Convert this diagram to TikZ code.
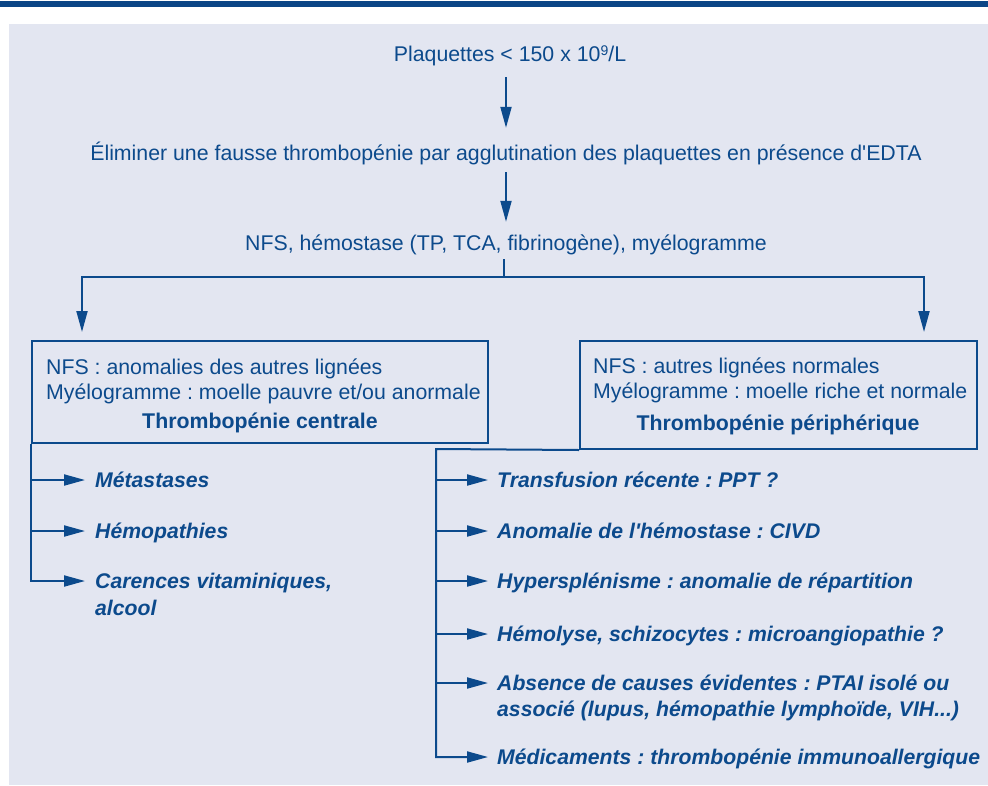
\documentclass[tikz,border=0pt]{standalone}
\usepackage{fontspec}
\setmainfont{Liberation Sans}[Ligatures=TeXOff]
\usetikzlibrary{arrows.meta}
\definecolor{navy}{HTML}{0C4A8C}
\definecolor{bgc}{HTML}{E3E6F1}
\definecolor{barc}{HTML}{0B4586}
\begin{document}
\frenchspacing
\begin{tikzpicture}[x=1pt,y=-1pt,
  every node/.style={text=navy, inner sep=0pt, font=\fontsize{21.3}{26}\selectfont},
  txt/.style={anchor=base, text height=18pt, text depth=4pt},
  ltxt/.style={anchor=base west, text height=18pt, text depth=4pt},
  item/.style={anchor=base west, text height=18pt, text depth=4pt, font=\fontsize{21.2}{26}\selectfont\bfseries\itshape},
  title/.style={anchor=base, font=\fontsize{21.3}{26}\selectfont\bfseries},
  box/.style={draw=navy, line width=2pt, rectangle},
  ln/.style={draw=navy, line width=2pt},
  arr/.style={draw=navy, line width=2pt, -{Triangle[length=21pt,width=11pt]}}]
\useasboundingbox (0,0) rectangle (988,785);
\fill[white] (0,0) rectangle (988,785);
\fill[barc] (0,1) rectangle (988,7);
\fill[bgc] (9,24) rectangle (988,785);

% main column
\node[txt] (n1) at (510,61) {Plaquettes < 150 x 10\raisebox{6pt}{\fontsize{14}{14}\selectfont 9}/L};
\node[txt] (n2) at (506,160) {Éliminer une fausse thrombopénie par agglutination des plaquettes en présence d'EDTA};
\node[txt] (n3) at (506,250) {NFS, hémostase (TP, TCA, fibrinogène), myélogramme};
\draw[arr, shorten <=12pt, shorten >=14pt] (n2.north |- n1.south) -- (n2.north);
\draw[arr, shorten <=8pt, shorten >=10pt] (n2.south) -- (n2.south |- n3.north);
\coordinate (split) at (504,277);
\draw[ln, shorten <=5pt] (n3.south -| split) -- (split);

% boxes
\node[box, minimum width=456pt, minimum height=102pt] (boxL) at (260,392) {};
\node[box, minimum width=397pt, minimum height=108pt] (boxR) at (778.5,395) {};
\draw[arr, shorten >=8pt] (split) -| ([xshift=51pt]boxL.north west);
\draw[arr, shorten >=8pt] (split) -| ([xshift=-54pt]boxR.north east);

\node[ltxt] (l1) at (46,374) {NFS : anomalies des autres lignées};
\node[ltxt] (l2) at (46,399) {Myélogramme : moelle pauvre et/ou anormale};
\node[title] (lt) at (260,428) {Thrombopénie centrale};
\node[ltxt] (r1) at (593,373) {NFS : autres lignées normales};
\node[ltxt] (r2) at (593,398) {Myélogramme : moelle riche et normale};
\node[title] (rt) at (778,430) {Thrombopénie périphérique};

% left tree
\node[item] (iL1) at (95,487) {Métastases};
\node[item] (iL2) at (95,538) {Hémopathies};
\node[item] (iL3) at (95,588) {Carences vitaminiques,};
\node[item] (iL3b) at (95,615) {alcool};
\draw[arr, shorten >=10pt] (boxL.south west |- iL1.west) -- (iL1.west);
\draw[arr, shorten >=10pt] (boxL.south west |- iL2.west) -- (iL2.west);
\draw[arr, shorten >=10pt] (boxL.south west) |- (iL3.west);

% right tree
\node[item] (iR1) at (497,487) {Transfusion récente : PPT ?};
\node[item] (iR2) at (497,538) {Anomalie de l'hémostase : CIVD};
\node[item] (iR3) at (497,588) {Hypersplénisme : anomalie de répartition};
\node[item] (iR4) at (497,641) {Hémolyse, schizocytes : microangiopathie ?};
\node[item] (iR5) at (497,690) {Absence de causes évidentes : PTAI isolé ou};
\node[item] (iR5b) at (497,716) {associé (lupus, hémopathie lymphoïde, VIH...)};
\node[item] (iR6) at (497,764) {Médicaments : thrombopénie immunoallergique};
\coordinate (rtop) at (436,449);
\draw[arr, shorten >=9pt] (boxR.south west) -- (rtop) |- (iR6.west);
\foreach \k in {1,...,5}{
  \draw[arr, shorten >=9pt] (rtop |- iR\k.west) -- (iR\k.west);
}
\end{tikzpicture}
\end{document}
